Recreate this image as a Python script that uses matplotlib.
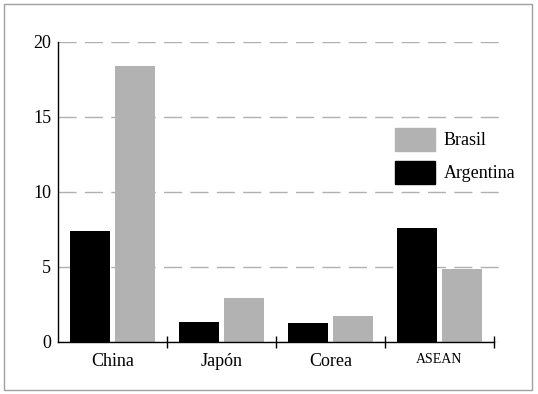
import matplotlib
matplotlib.use("Agg")
import matplotlib.pyplot as plt
from matplotlib.patches import Rectangle, Patch
import numpy as np

categories = ["China", "Japón", "Corea", "ASEAN"]
argentina = [7.4, 1.33, 1.26, 7.6]
brasil = [18.35, 2.93, 1.73, 4.86]
y_ticks = [0, 5, 10, 15, 20]

plt.rcParams['font.family'] = ['Liberation Serif', 'DejaVu Serif']

W, H = 538, 394
fig = plt.figure(figsize=(W / 100, H / 100), dpi=100)
ax = fig.add_axes([58 / W, (H - 342) / H, (505 - 58) / W, (342 - 41.5) / H])

x = np.arange(len(categories))
bw = 0.367
off = 0.202
ax.bar(x - off, argentina, width=bw, color="#000000", zorder=3, label="Argentina")
ax.bar(x + off, brasil, width=bw, color="#b2b2b2", zorder=3, label="Brasil")

ax.set_xlim(-0.5, 3.5 + 11 / 109)
ax.set_ylim(0, 20)
ax.set_yticks(y_ticks)
ax.set_yticklabels([str(v) for v in y_ticks])
for v in y_ticks:
    ax.axhline(v, color="#b0b0b0", lw=1.0, ls=(0, (13, 6)), zorder=1)

for s in ["top", "right"]:
    ax.spines[s].set_visible(False)
ax.spines["left"].set_linewidth(1.0)
ax.spines["bottom"].set_linewidth(1.0)
ax.spines["bottom"].set_bounds(-0.5, 3.5)
ax.spines["left"].set_zorder(4)
ax.spines["bottom"].set_zorder(4)

ax.set_xticks(x)
ax.set_xticklabels(categories, fontsize=13)
ax.get_xticklabels()[3].set_fontsize(10)
ax.tick_params(axis="x", which="major", length=0, pad=8)
ax.set_xticks([0.5, 1.5, 2.5, 3.5], minor=True)
ax.tick_params(axis="x", which="minor", length=9, direction="inout", width=1, color="black")
ax.tick_params(axis="y", length=0, pad=5, labelsize=13)

handles = [Patch(color="#b2b2b2"), Patch(color="#000000")]
ax.legend(handles, ["Brasil", "Argentina"], loc="upper left",
          bbox_to_anchor=(395 / W, 1 - 128 / H), bbox_transform=fig.transFigure,
          frameon=False, fontsize=13, handlelength=2.21, handleheight=1.58,
          handletextpad=0.5, labelspacing=0.55, borderpad=0, borderaxespad=0)

fig.patches.append(Rectangle((4 / W, 1 - 390 / H), (532 - 4) / W, (390 - 3.5) / H,
                             transform=fig.transFigure, fill=False,
                             edgecolor="#a0a0a0", lw=1.0))

fig.savefig("out.png", dpi=100)
